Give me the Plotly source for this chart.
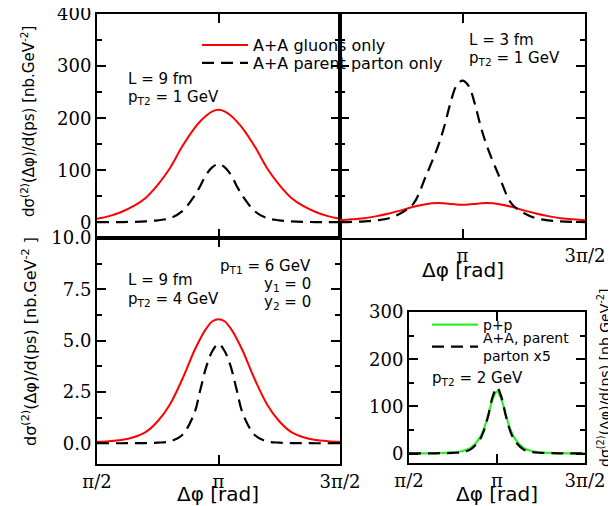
import plotly.graph_objects as go
import math

# ---------------- data ----------------
phi = [1.571, 1.728, 1.885, 2.042, 2.199, 2.356, 2.513, 2.670, 2.827, 2.906, 2.985, 3.063,
       3.142, 3.220, 3.299, 3.377, 3.456, 3.613, 3.770, 3.927, 4.084, 4.241, 4.398, 4.555, 4.712]

# top-left: L = 9 fm, pT2 = 1 GeV
tl_gluons = [7, 12, 20, 31, 47, 72, 104, 145, 180, 194, 205, 213,
             216, 213, 205, 194, 180, 145, 104, 72, 47, 31, 20, 12, 7]
tl_parent = [0.3, 0.4, 0.6, 1, 2, 4, 8, 21, 50, 70, 92, 106,
             112, 106, 92, 70, 50, 21, 8, 4, 2, 1, 0.6, 0.4, 0.3]

# top-right: L = 3 fm, pT2 = 1 GeV
tr_gluons = [4, 6, 8, 12, 17, 23, 30, 35, 37, 36.5, 35.5, 34.5,
             34, 34.5, 35.5, 36.5, 37, 35, 30, 23, 17, 12, 8, 6, 4]
tr_parent = [0.5, 1, 2, 4, 8, 18, 36, 88, 146, 183, 228, 262,
             272, 262, 228, 183, 146, 88, 36, 18, 8, 4, 2, 1, 0.5]

# bottom-left: L = 9 fm, pT2 = 4 GeV
bl_gluons = [0.08, 0.11, 0.17, 0.3, 0.55, 1.08, 1.9, 3.1, 4.5, 5.1, 5.6, 5.95,
             6.05, 5.95, 5.6, 5.1, 4.5, 3.1, 1.9, 1.08, 0.55, 0.3, 0.17, 0.11, 0.08]
bl_parent = [0.01, 0.01, 0.01, 0.02, 0.02, 0.04, 0.1, 0.4, 1.45, 2.6, 3.75, 4.5,
             4.85, 4.5, 3.75, 2.6, 1.45, 0.4, 0.1, 0.04, 0.02, 0.02, 0.01, 0.01, 0.01]

# bottom-right: pT2 = 2 GeV
br_pp = [0.3, 0.4, 0.6, 1, 1.5, 2.5, 5, 12, 32, 52, 82, 115,
         132, 115, 82, 52, 32, 12, 5, 2.5, 1.5, 1, 0.6, 0.4, 0.3]
br_parent_x5 = [0.2, 0.3, 0.4, 0.6, 1, 1.5, 3, 9, 28, 48, 80, 120,
                140, 120, 80, 48, 28, 9, 3, 1.5, 1, 0.6, 0.4, 0.3, 0.2]

x_tickvals = [math.pi / 2, math.pi, 3 * math.pi / 2]
x_ticktext = ["π/2", "π", "3π/2"]

legend_names = ["A+A gluons only", "A+A parent parton only", "p+p", "A+A, parent<br>parton x5"]

# ---------------- styling ----------------
OFF = 8                      # page body margin
W, H = 616 - OFF, 506 - OFF
RED = "#ff0000"
GREEN = "#2cf02c"
SANS = "DejaVu Sans"
SERIF = "DejaVu Serif"
DASH = "12px,7px"


def px(x):
    return (x - OFF) / W


def py(y):
    return 1 - (y - OFF) / H


fig = go.Figure()

line_kw = dict(mode="lines", line_shape="spline")

# top-left
fig.add_trace(go.Scatter(x=phi, y=tl_gluons, xaxis="x", yaxis="y", name=legend_names[0],
                         line=dict(color=RED, width=2), legend="legend", **line_kw))
fig.add_trace(go.Scatter(x=phi, y=tl_parent, xaxis="x", yaxis="y", name=legend_names[1],
                         line=dict(color="black", width=2.2, dash=DASH), legend="legend2", **line_kw))
# top-right
fig.add_trace(go.Scatter(x=phi, y=tr_gluons, xaxis="x2", yaxis="y2", showlegend=False,
                         line=dict(color=RED, width=2), **line_kw))
fig.add_trace(go.Scatter(x=phi, y=tr_parent, xaxis="x2", yaxis="y2", showlegend=False,
                         line=dict(color="black", width=2.2, dash=DASH), **line_kw))
# bottom-left
fig.add_trace(go.Scatter(x=phi, y=bl_gluons, xaxis="x3", yaxis="y3", showlegend=False,
                         line=dict(color=RED, width=2), **line_kw))
fig.add_trace(go.Scatter(x=phi, y=bl_parent, xaxis="x3", yaxis="y3", showlegend=False,
                         line=dict(color="black", width=2.2, dash=DASH), **line_kw))
# bottom-right
fig.add_trace(go.Scatter(x=phi, y=br_pp, xaxis="x4", yaxis="y4", name=legend_names[2],
                         line=dict(color=GREEN, width=2.2), legend="legend3", **line_kw))
fig.add_trace(go.Scatter(x=phi, y=br_parent_x5, xaxis="x4", yaxis="y4", name=legend_names[3],
                         line=dict(color="black", width=2.2, dash=DASH), legend="legend4", **line_kw))

axis_common = dict(showline=True, linewidth=2, linecolor="black", mirror="ticks",
                   ticks="inside", ticklen=9, tickwidth=1.5, tickcolor="black",
                   showgrid=False, zeroline=False, automargin=False,
                   ticklabeloverflow="allow",
                   tickfont=dict(family=SERIF, size=18, color="black"))

xr = [math.pi / 2, 3 * math.pi / 2]
fig.update_layout(
    xaxis=dict(domain=[px(97), px(340)], range=xr, anchor="y", tickvals=x_tickvals,
               showticklabels=False, **axis_common),
    yaxis=dict(domain=[py(238), py(14)], range=[-30, 400], anchor="x",
               tickvals=[0, 100, 200, 300, 400],
               minor=dict(ticks="inside", ticklen=5, dtick=50, tickcolor="black", tickwidth=1.5),
               **axis_common),
    xaxis2=dict(domain=[px(340), px(585)], range=xr, anchor="y2", tickvals=x_tickvals[1:],
                ticktext=x_ticktext[1:], **axis_common),
    yaxis2=dict(domain=[py(238), py(14)], range=[-30, 400], anchor="x2",
                tickvals=[0, 100, 200, 300, 400], showticklabels=False,
                minor=dict(ticks="inside", ticklen=5, dtick=50, tickcolor="black", tickwidth=1.5),
                **axis_common),
    xaxis3=dict(domain=[px(97), px(340)], range=xr, anchor="y3", tickvals=x_tickvals,
                ticktext=x_ticktext, **axis_common),
    yaxis3=dict(domain=[py(464), py(238)], range=[-1, 10], anchor="x3",
                tickvals=[0, 2.5, 5, 7.5, 10], ticktext=["0.0", "2.5", "5.0", "7.5", "10.0"],
                minor=dict(ticks="inside", ticklen=5, dtick=1.25, tickcolor="black", tickwidth=1.5),
                **axis_common),
    xaxis4=dict(domain=[px(409), px(585)], range=xr, anchor="y4", tickvals=x_tickvals,
                ticktext=x_ticktext, **axis_common),
    yaxis4=dict(domain=[py(463), py(312)], range=[-20, 300], anchor="x4",
                tickvals=[0, 100, 200, 300],
                minor=dict(ticks="inside", ticklen=5, dtick=50, tickcolor="black", tickwidth=1.5),
                **axis_common),
)

leg_common = dict(bgcolor="rgba(0,0,0,0)", borderwidth=0, xanchor="left", yanchor="middle",
                  itemwidth=46, tracegroupgap=0)
fig.update_layout(
    legend=dict(x=px(197), y=py(45), font=dict(family=SANS, size=16, color="black"), **leg_common),
    legend2=dict(x=px(197), y=py(63), font=dict(family=SANS, size=16, color="black"), **leg_common),
    legend3=dict(x=px(427), y=py(325), font=dict(family=SANS, size=14, color="black"), **leg_common),
    legend4=dict(x=px(427), y=py(347), font=dict(family=SANS, size=14, color="black"), **leg_common),
)

ann = []


def text(x, y, s, size=15, xanchor="left", family=SANS, angle=0):
    ann.append(dict(x=px(x), y=py(y), xref="paper", yref="paper", text=s, showarrow=False,
                    xanchor=xanchor, yanchor="middle", textangle=angle,
                    font=dict(family=family, size=size, color="black")))


text(126, 79, "L = 9 fm")
text(126, 97, "p<sub>T2</sub> = 1 GeV")
text(467, 40, "L = 3 fm")
text(467, 59, "p<sub>T2</sub> = 1 GeV")
text(126, 280, "L = 9 fm")
text(126, 299, "p<sub>T2</sub> = 4 GeV")
text(313, 266, "p<sub>T1</sub> = 6 GeV", xanchor="right")
text(313, 284, "y<sub>1</sub> = 0", xanchor="right")
text(313, 302, "y<sub>2</sub> = 0", xanchor="right")
text(430, 378, "p<sub>T2</sub> = 2 GeV")

text(463, 270, "Δφ [rad]", size=20, xanchor="center")
text(218, 494, "Δφ [rad]", size=20, xanchor="center")
text(497, 494, "Δφ [rad]", size=20, xanchor="center")

text(28, 122, "dσ<sup>(2)</sup>(Δφ)/d(ps) [nb.GeV<sup>-2</sup>]", size=15, xanchor="center", angle=-90)
text(29, 342, "dσ<sup>(2)</sup>(Δφ)/d(ps) [nb.GeV<sup>-2</sup> ]", size=16, xanchor="center", angle=-90)
text(604, 378, "dσ<sup>(2)</sup>(Δφ)/d(ps) [nb.GeV<sup>-2</sup>]", size=14, xanchor="center", angle=-90)

fig.update_layout(annotations=ann, width=W, height=H,
                  margin=dict(l=0, r=0, t=0, b=0, autoexpand=False),
                  paper_bgcolor="white", plot_bgcolor="rgba(0,0,0,0)", showlegend=True)

fig.write_html("out.html")
